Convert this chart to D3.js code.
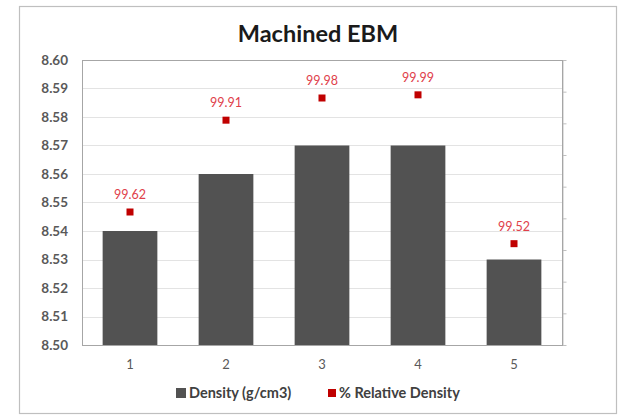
<!DOCTYPE html>
<html>
<head>
<meta charset="utf-8">
<script src="https://cdn.jsdelivr.net/npm/d3@7"></script>
<style>
  html, body { margin: 0; padding: 0; background: #fff; }
  svg { display: block; }
</style>
</head>
<body>
<div id="chart"></div>
<script>
// Samples and measurements
const categories = ["1", "2", "3", "4", "5"];
const density = [8.54, 8.56, 8.57, 8.57, 8.53];          // g/cm3, left axis
const relDensity = [99.62, 99.91, 99.98, 99.99, 99.52];  // %, right axis
const densityTicks = [8.50, 8.51, 8.52, 8.53, 8.54, 8.55, 8.56, 8.57, 8.58, 8.59, 8.60];
const relTicks = [99.2, 99.3, 99.4, 99.5, 99.6, 99.7, 99.8, 99.9, 100.0, 100.1];
const title = "Machined EBM";
const legendLabels = ["Density (g/cm3)", "% Relative Density"];

const W = 619, H = 418;
const plot = { left: 82, right: 562, top: 60, bottom: 345 };
const font = "Lato, 'Open Sans', sans-serif";

const svg = d3.select("#chart").append("svg")
  .attr("width", W).attr("height", H);

// chart frame
svg.append("rect")
  .attr("x", 19.5).attr("y", 6.5).attr("width", 597).attr("height", 407)
  .attr("fill", "#fff").attr("stroke", "#bfbfbf").attr("stroke-width", 1.2);

const x = d3.scaleBand().domain(categories)
  .range([plot.left, plot.right]).paddingInner(0.43).paddingOuter(0.215);
const y = d3.scaleLinear().domain([8.50, 8.60]).range([plot.bottom, plot.top]);
const y2 = d3.scaleLinear().domain([99.2, 100.1]).range([plot.bottom, plot.top]);

// horizontal gridlines
svg.append("g").selectAll("line").data(densityTicks).join("line")
  .attr("x1", plot.left).attr("x2", plot.right)
  .attr("y1", d => Math.round(y(d)) + 0.5).attr("y2", d => Math.round(y(d)) + 0.5)
  .attr("stroke", "#e3e3e3").attr("stroke-width", 1);

// left axis labels
const yAxis = d3.axisLeft(y).tickValues(densityTicks).tickFormat(d3.format(".2f"))
  .tickSize(0).tickPadding(14);
const gy = svg.append("g").attr("transform", `translate(${plot.left},0)`).call(yAxis);
gy.select(".domain").remove();
gy.selectAll("text").attr("font-family", font).attr("font-size", 13.5)
  .attr("font-weight", "bold").attr("fill", "#595959");

// right axis: tick marks only
const y2Axis = d3.axisRight(y2).tickValues(relTicks).tickFormat("").tickSizeInner(4).tickSizeOuter(0);
const gy2 = svg.append("g").attr("transform", `translate(${plot.right + 0.5},0)`).call(y2Axis);
gy2.select(".domain").attr("stroke", "#bfbfbf");
gy2.selectAll(".tick line").attr("stroke", "#bfbfbf");

// bars
svg.append("g").selectAll("rect").data(density).join("rect")
  .attr("x", (d, i) => x(categories[i]))
  .attr("y", d => y(d))
  .attr("width", x.bandwidth())
  .attr("height", d => y(8.50) - y(d))
  .attr("fill", "#525252");

// plot area border
svg.append("rect")
  .attr("x", plot.left + 0.5).attr("y", plot.top + 0.5)
  .attr("width", plot.right - plot.left).attr("height", plot.bottom - plot.top)
  .attr("fill", "none").attr("stroke", "#a6a6a6").attr("stroke-width", 1);

// x axis labels
const xAxis = d3.axisBottom(x).tickSize(0).tickPadding(15);
const gx = svg.append("g").attr("transform", `translate(0,${plot.bottom})`).call(xAxis);
gx.select(".domain").remove();
gx.selectAll("text").attr("font-family", font).attr("font-size", 13)
  .attr("fill", "#595959");

// relative density markers and labels
const cx = i => x(categories[i]) + x.bandwidth() / 2;
svg.append("g").selectAll("rect").data(relDensity).join("rect")
  .attr("x", (d, i) => cx(i) - 3.5).attr("y", d => y2(d) - 3.5)
  .attr("width", 7).attr("height", 7).attr("fill", "#c00000");
svg.append("g").selectAll("text").data(relDensity).join("text")
  .attr("x", (d, i) => cx(i)).attr("y", d => y2(d) - 13)
  .attr("text-anchor", "middle")
  .attr("font-family", font).attr("font-size", 12.5)
  .attr("fill", "#e0404a")
  .text(d => d.toFixed(2));

// title
svg.append("text").attr("x", 318).attr("y", 42)
  .attr("text-anchor", "middle").attr("font-family", font)
  .attr("font-size", 23.5).attr("font-weight", "bold").attr("fill", "#1a1a1a")
  .text(title);

// legend
const legend = svg.append("g").attr("font-family", font).attr("font-size", 14.5)
  .attr("font-weight", "bold").attr("fill", "#404040");
const legendItems = [
  { label: legendLabels[0], color: "#525252", x: 176, size: 10 },
  { label: legendLabels[1], color: "#c00000", x: 328, size: 8 }
];
legendItems.forEach(it => {
  legend.append("rect").attr("x", it.x).attr("y", 394 - it.size / 2 - 1)
    .attr("width", it.size).attr("height", it.size).attr("fill", it.color);
  legend.append("text").attr("x", it.x + it.size + 3).attr("y", 398).text(it.label);
});
</script>
</body>
</html>
